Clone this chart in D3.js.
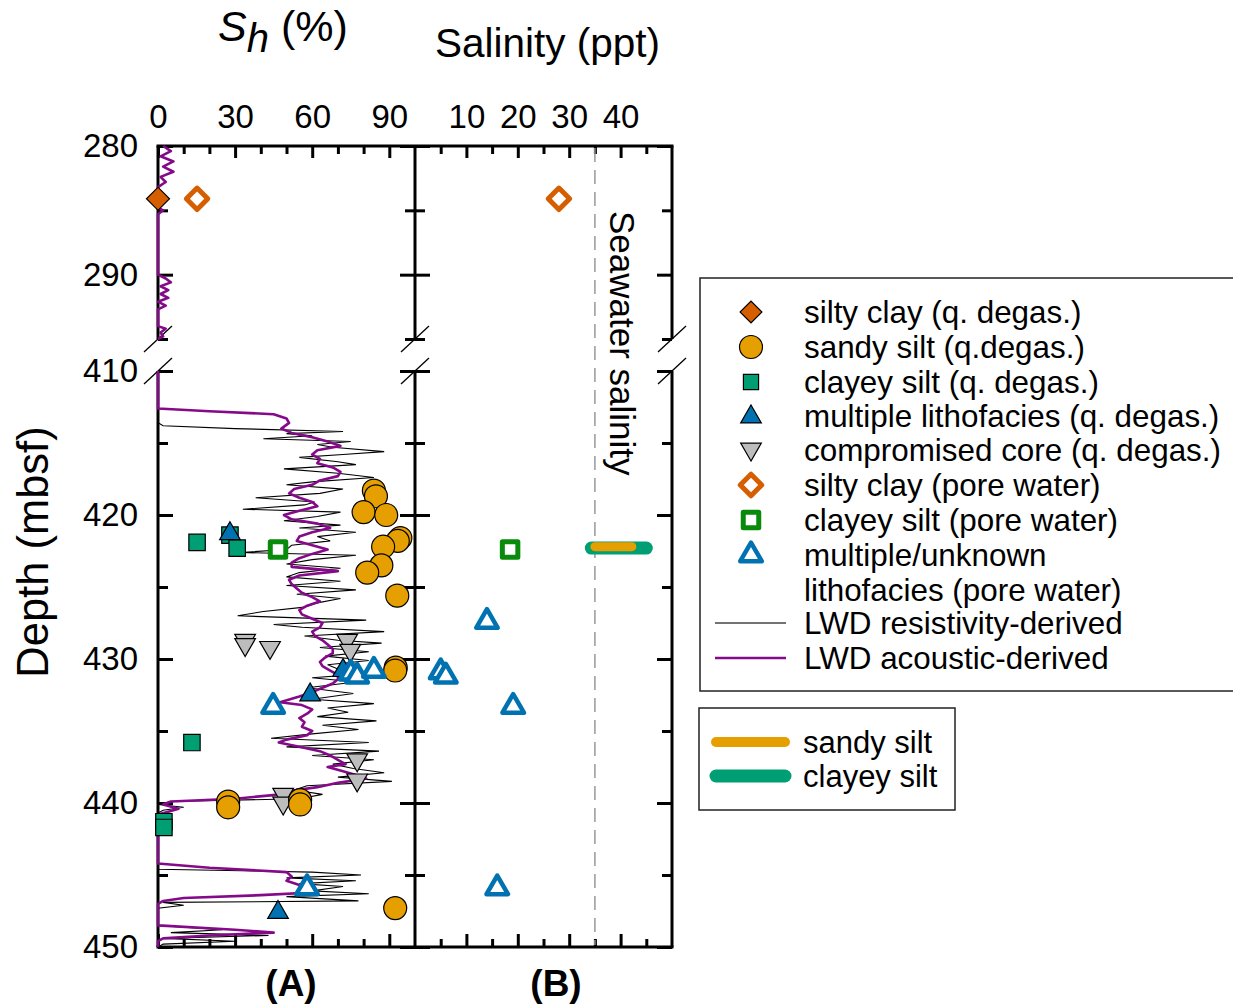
<!DOCTYPE html>
<html>
<head>
<meta charset="utf-8">
<script src="https://cdn.jsdelivr.net/npm/d3@7"></script>
<style>
body { margin: 0; background: #fff; }
text { font-family: "Liberation Sans", Arial, sans-serif; fill: #000; }
</style>
</head>
<body>
<div id="container"></div>
<script>
// tick values
var shTicks = [0, 30, 60, 90];
var shMinor = [10, 20, 40, 50, 70, 80];
var salTicks = [10, 20, 30, 40];
var salMinor = [5, 15, 25, 35, 45];
var depthUpTicks = [280, 290];
var depthUpMinor = [285, 295];
var depthLoTicks = [410, 420, 430, 440, 450];
var depthLoMinor = [415, 425, 435, 445];

// panel A points: [Sh %, depth mbsf]
var siltyClayQD = [[0, 284.1]];
var sandySiltQD = [[84, 418.3], [84.8, 418.7], [80, 419.8], [88.8, 420.0], [94.3, 421.6], [93.3, 421.8],
  [87.6, 422.2], [86.9, 423.5], [81.4, 424.0], [93.1, 425.6], [92.5, 430.6], [92.3, 430.8],
  [27.3, 439.9], [27.3, 440.3], [55.3, 439.8], [55.3, 440.1], [92.3, 447.3]];
var clayeySiltQD = [[15.2, 421.9], [28, 421.4], [30.8, 422.3], [13.2, 435.8], [2.3, 441.3], [2.3, 441.7]];
var multiLithoQD = [[28, 421.3], [72, 430.8], [59.2, 432.5], [46.7, 447.6]];
var compromisedQD = [[33.9, 428.7], [33.9, 429.0], [43.6, 429.2], [73.6, 428.7], [74.8, 429.4],
  [77.5, 437.0], [77.5, 438.4], [48.7, 439.4], [48.7, 440.0]];
var siltyClayPW_A = [[15.2, 284.1]];
var clayeySiltPW_A = [[46.7, 422.4]];
var multiPW_A = [[75, 431.0], [77.5, 431.2], [84, 430.8], [44.8, 433.3], [58, 445.9]];

// panel B points: [salinity ppt, depth mbsf]
var siltyClayPW_B = [[28.0, 284.1]];
var clayeySiltPW_B = [[18.5, 422.4]];
var multiPW_B = [[14.0, 427.4], [5.0, 430.9], [6.0, 431.2], [19.1, 433.3], [16.0, 445.9]];
var seawater = 35;
var clayeySiltRange = [34.3, 45.0], clayeySiltRangeDepth = 422.3;
var sandySiltRange = [35.0, 42.2], sandySiltRangeDepth = 422.2;

// LWD acoustic-derived Sh, [depth, Sh]
var acousticUp = [[280, 2], [280.4, 5], [280.8, 1], [281.2, 6], [281.6, 2], [282.0, 6], [282.4, 1],
  [282.8, 3], [283.2, 0], [284.8, 0], [285.0, 2], [285.3, 0], [290.0, 0], [290.3, 3], [290.6, 5],
  [290.9, 1], [291.2, 4], [291.5, 1], [291.8, 4], [292.1, 0], [292.4, 3], [292.7, 0], [294.0, 0],
  [294.2, 3], [294.5, 1], [294.8, 2], [295, 0]];
var acousticLo = [[410, 0], [412.6, 0], [412.8, 20], [413.0, 45], [413.3, 50], [413.6, 51], [414.0, 48],
  [414.3, 52], [414.6, 60], [414.9, 66], [415.2, 71], [415.5, 62], [415.8, 60], [416.1, 63], [416.4, 62],
  [416.7, 68], [417.0, 71], [417.3, 70], [417.6, 63], [417.9, 60], [418.2, 53], [418.5, 51], [418.8, 55],
  [419.1, 60], [419.4, 62], [419.7, 55], [420.0, 49], [420.3, 52], [420.6, 62], [420.9, 67], [421.2, 60],
  [421.5, 55], [421.8, 54], [422.1, 60], [422.4, 66], [422.7, 60], [423.0, 55], [423.3, 52], [423.6, 52],
  [423.9, 70], [424.2, 55], [424.5, 51], [424.8, 52], [425.1, 54], [425.4, 56], [425.7, 60], [426.0, 63],
  [426.3, 58], [426.6, 55], [426.9, 56], [427.2, 60], [427.5, 64], [427.8, 63], [428.1, 60], [428.4, 61],
  [428.7, 64], [429.0, 66], [429.3, 68], [429.6, 68], [429.9, 65], [430.2, 63], [430.5, 64], [430.8, 67],
  [431.1, 70], [431.4, 70], [431.7, 68], [432.0, 64], [432.3, 60], [432.6, 55], [433.0, 47.5], [433.2, 56],
  [433.5, 60], [433.8, 58], [434.1, 55], [434.4, 57], [434.7, 56], [435.0, 60], [435.3, 58], [435.6, 50],
  [435.8, 47], [436.1, 55], [436.4, 63], [436.7, 67], [437.0, 70], [437.3, 73], [437.5, 66], [437.8, 72],
  [438.1, 78], [438.3, 81], [438.6, 70], [438.9, 62], [439.2, 50], [439.4, 48], [439.7, 30], [439.9, 5],
  [440.1, 2], [440.4, 8], [440.6, 4], [440.8, 0], [444.2, 0], [444.5, 20], [444.8, 50], [445.1, 52],
  [445.4, 50], [445.7, 55], [446.0, 60], [446.2, 62], [446.4, 40], [446.6, 10], [446.8, 2], [447.0, 0],
  [448.5, 0], [448.8, 30], [449.0, 45], [449.2, 20], [449.4, 2], [449.6, 0], [450, 0]];

// LWD resistivity-derived Sh, [depth, Sh]
var resistivityLo = [[413.6, 0], [413.8, 2], [414.0, 30], [414.2, 72], [414.35, 50], [414.5, 60],
  [414.7, 41], [414.9, 75], [415.1, 62], [415.3, 68], [415.6, 88], [415.8, 72], [416.0, 55], [416.3, 70],
  [416.5, 77], [416.8, 49], [417.1, 70], [417.4, 84], [417.7, 60], [417.9, 50], [418.2, 72], [418.5, 63],
  [418.8, 38], [419.1, 61], [419.3, 57], [419.6, 33], [419.8, 71], [420.1, 62], [420.4, 49], [420.7, 71],
  [420.9, 55], [421.2, 77], [421.5, 62], [421.8, 67], [422.1, 52], [422.4, 50], [422.6, 32], [422.8, 77],
  [423.1, 60], [423.4, 50], [423.7, 71], [424.0, 55], [424.3, 50], [424.6, 71], [424.9, 50], [425.2, 77],
  [425.5, 54], [425.8, 71], [426.1, 62], [426.4, 57], [426.7, 41], [427.0, 31], [427.3, 81], [427.6, 45],
  [427.8, 56], [428.1, 88], [428.4, 57], [428.7, 70], [428.9, 87], [429.2, 63], [429.5, 82], [429.8, 65],
  [430.1, 82], [430.4, 66], [430.7, 70], [431.0, 83], [431.3, 60], [431.6, 77], [432.0, 58], [432.4, 76],
  [432.8, 60], [433.1, 84], [433.4, 66], [433.7, 74], [434.0, 62], [434.3, 85], [434.6, 64], [434.9, 78],
  [435.2, 60], [435.5, 44], [435.8, 82], [436.1, 50], [436.4, 86], [436.7, 60], [437.0, 84], [437.3, 68],
  [437.6, 76], [437.9, 88], [438.2, 70], [438.5, 91], [438.8, 58], [439.1, 53], [439.4, 64], [439.7, 55],
  [439.9, 5], [440.1, 0], [440.3, 10], [440.5, 2], [440.7, 0], [444.6, 0], [444.8, 60], [445.0, 79],
  [445.2, 50], [445.4, 77], [445.6, 55], [445.8, 72], [446.1, 60], [446.3, 82], [446.5, 50], [446.8, 78],
  [446.9, 2], [447.1, 10], [447.3, 0], [448.5, 0], [448.8, 25], [449.0, 5], [449.2, 43], [449.4, 2],
  [449.6, 30], [449.8, 2], [450, 0]];

var legendLabels = ["silty clay (q. degas.)", "sandy silt (q.degas.)", "clayey silt (q. degas.)",
  "multiple lithofacies (q. degas.)", "compromised core (q. degas.)", "silty clay (pore water)",
  "clayey silt (pore water)", "multiple/unknown", "lithofacies (pore water)",
  "LWD resistivity-derived", "LWD acoustic-derived"];
var rangeLabels = ["sandy silt", "clayey silt"];

// colours
var cOrange = "#D55E00", cYellow = "#E69F00", cGreen = "#009E73", cBlue = "#0072B2",
    cGray = "#BDBDBD", cDkGreen = "#0A8A0A", cPurple = "#850A8A";

var svg = d3.select("#container").append("svg")
  .attr("width", 1233).attr("height", 1008);

var xA = d3.scaleLinear().domain([0, 100]).range([158, 415]);
var xB = d3.scaleLinear().domain([0, 50]).range([415, 672]);
var yUp = d3.scaleLinear().domain([280, 295]).range([146, 339]);
var yLo = d3.scaleLinear().domain([410, 450]).range([371, 947]);
function yy(d) { return d < 300 ? yUp(d) : yLo(d); }

// axes
function styleAxis(g) {
  g.select(".domain").remove();
  g.selectAll(".tick line").attr("stroke", "#000").attr("stroke-width", 3);
  g.selectAll(".tick text").attr("font-size", 33).attr("fill", "#000")
    .attr("font-family", "Liberation Sans, Arial, sans-serif");
  return g;
}
function addAxis(gen, tr) { return styleAxis(svg.append("g").attr("transform", tr).call(gen)); }

// top
addAxis(d3.axisTop(xA).tickValues(shTicks).tickSize(-12).tickPadding(18), "translate(0,146)");
addAxis(d3.axisTop(xA).tickValues(shMinor).tickSize(-8).tickFormat(""), "translate(0,146)");
addAxis(d3.axisTop(xB).tickValues(salTicks).tickSize(-12).tickPadding(18), "translate(0,146)");
addAxis(d3.axisTop(xB).tickValues(salMinor).tickSize(-8).tickFormat(""), "translate(0,146)");
// bottom
addAxis(d3.axisBottom(xA).tickValues(shTicks).tickSize(-13).tickFormat(""), "translate(0,947)");
addAxis(d3.axisBottom(xA).tickValues(shMinor).tickSize(-8).tickFormat(""), "translate(0,947)");
addAxis(d3.axisBottom(xB).tickValues(salTicks).tickSize(-13).tickFormat(""), "translate(0,947)");
addAxis(d3.axisBottom(xB).tickValues(salMinor).tickSize(-8).tickFormat(""), "translate(0,947)");

// vertical axes, both segments
[[yUp, depthUpTicks, depthUpMinor], [yLo, depthLoTicks, depthLoMinor]].forEach(function (s) {
  var y = s[0];
  addAxis(d3.axisLeft(y).tickValues(s[1]).tickSize(-15).tickPadding(20), "translate(158,0)");
  addAxis(d3.axisLeft(y).tickValues(s[2]).tickSize(-10).tickFormat(""), "translate(158,0)");
  addAxis(d3.axisRight(y).tickValues(s[1]).tickSize(-15).tickFormat(""), "translate(415,0)");
  addAxis(d3.axisRight(y).tickValues(s[2]).tickSize(-10).tickFormat(""), "translate(415,0)");
  addAxis(d3.axisLeft(y).tickValues(s[1]).tickSize(-15).tickFormat(""), "translate(415,0)");
  addAxis(d3.axisLeft(y).tickValues(s[2]).tickSize(-10).tickFormat(""), "translate(415,0)");
  addAxis(d3.axisRight(y).tickValues(s[1]).tickSize(-15).tickFormat(""), "translate(672,0)");
  addAxis(d3.axisRight(y).tickValues(s[2]).tickSize(-10).tickFormat(""), "translate(672,0)");
});

// frame
var frame = svg.append("g").attr("stroke", "#000").attr("stroke-width", 3).attr("fill", "none");
frame.append("line").attr("x1", xA(0) - 1.5).attr("x2", xB(50) + 1.5).attr("y1", yUp(280)).attr("y2", yUp(280));
frame.append("line").attr("x1", xA(0) - 1.5).attr("x2", xB(50) + 1.5).attr("y1", yLo(450)).attr("y2", yLo(450));
[xA(0), xA(100), xB(50)].forEach(function (x) {
  frame.append("line").attr("x1", x).attr("x2", x).attr("y1", yUp(280)).attr("y2", yUp(295));
  frame.append("line").attr("x1", x).attr("x2", x).attr("y1", yLo(410)).attr("y2", yLo(450));
  [yUp(295), yLo(410)].forEach(function (y) {
    svg.append("line").attr("x1", x - 14).attr("y1", y + 13).attr("x2", x + 14).attr("y2", y - 13)
      .attr("stroke", "#000").attr("stroke-width", 1.3);
  });
});

// seawater line
svg.append("line").attr("x1", xB(seawater)).attr("x2", xB(seawater))
  .attr("y1", yUp(280) + 2).attr("y2", yLo(450) - 2)
  .attr("stroke", "#999").attr("stroke-width", 1.5).attr("stroke-dasharray", "14,8");
svg.append("text").attr("transform", "translate(" + (xB(seawater) + 15) + "," + 211 + ") rotate(90)")
  .attr("font-size", 35).text("Seawater salinity");

// LWD curves
svg.append("path").datum(resistivityLo)
  .attr("d", d3.line().x(function (d) { return xA(d[1]); }).y(function (d) { return yLo(d[0]); }))
  .attr("fill", "none").attr("stroke", "#000").attr("stroke-width", 1.1);
[[acousticUp, yUp], [acousticLo, yLo]].forEach(function (c) {
  svg.append("path").datum(c[0])
    .attr("d", d3.line().x(function (d) { return xA(d[1]); }).y(function (d) { return c[1](d[0]); }))
    .attr("fill", "none").attr("stroke", cPurple).attr("stroke-width", 2.6).attr("stroke-linejoin", "round");
});

// symbols
var symDefs = {
  fdiamond: { type: d3.symbolSquare, size: 265, rot: 45, fill: cOrange, stroke: "#000", sw: 1.2 },
  circle: { type: d3.symbolCircle, size: 415, rot: 0, fill: cYellow, stroke: "#000", sw: 1.2 },
  fsquare: { type: d3.symbolSquare, size: 270, rot: 0, fill: cGreen, stroke: "#000", sw: 1.2 },
  ftri: { type: d3.symbolTriangle, size: 185, rot: 0, fill: cBlue, stroke: "#000", sw: 1.2 },
  dtri: { type: d3.symbolTriangle, size: 185, rot: 180, fill: cGray, stroke: "#000", sw: 1.2 },
  odiamond: { type: d3.symbolSquare, size: 230, rot: 45, fill: "#fff", stroke: cOrange, sw: 5 },
  osquare: { type: d3.symbolSquare, size: 240, rot: 0, fill: "#fff", stroke: cDkGreen, sw: 5 },
  otri: { type: d3.symbolTriangle, size: 200, rot: 0, fill: "#fff", stroke: cBlue, sw: 4.5 }
};
function drawSym(g, kind, x, y, scale) {
  var s = symDefs[kind];
  g.append("path")
    .attr("d", d3.symbol().type(s.type).size(s.size * (scale || 1))())
    .attr("transform", "translate(" + x + "," + y + ") rotate(" + s.rot + ")")
    .attr("fill", s.fill).attr("stroke", s.stroke).attr("stroke-width", s.sw)
    .attr("stroke-linejoin", s.sw > 2 ? "round" : "miter");
}
function plotA(arr, kind) { arr.forEach(function (d) { drawSym(svg, kind, xA(d[0]), yy(d[1])); }); }
function plotB(arr, kind) { arr.forEach(function (d) { drawSym(svg, kind, xB(d[0]), yy(d[1])); }); }

plotA(compromisedQD, "dtri");
plotA(clayeySiltQD, "fsquare");
plotA(multiLithoQD, "ftri");
plotA(sandySiltQD, "circle");
plotA(siltyClayQD, "fdiamond");
plotA(siltyClayPW_A, "odiamond");
plotA(clayeySiltPW_A, "osquare");
plotA(multiPW_A, "otri");

// panel B
svg.append("line").attr("x1", xB(clayeySiltRange[0])).attr("x2", xB(clayeySiltRange[1]))
  .attr("y1", yLo(clayeySiltRangeDepth)).attr("y2", yLo(clayeySiltRangeDepth))
  .attr("stroke", cGreen).attr("stroke-width", 13).attr("stroke-linecap", "round");
svg.append("line").attr("x1", xB(sandySiltRange[0])).attr("x2", xB(sandySiltRange[1]))
  .attr("y1", yLo(sandySiltRangeDepth)).attr("y2", yLo(sandySiltRangeDepth))
  .attr("stroke", cYellow).attr("stroke-width", 9).attr("stroke-linecap", "round");
plotB(siltyClayPW_B, "odiamond");
plotB(clayeySiltPW_B, "osquare");
plotB(multiPW_B, "otri");

// titles
var t1 = svg.append("text").attr("x", 218).attr("y", 41).attr("font-size", 43);
t1.append("tspan").attr("font-style", "italic").text("S");
t1.append("tspan").attr("font-style", "italic").attr("dy", 11).attr("font-size", 40).text("h");
t1.append("tspan").attr("dy", -11).text(" (%)");
svg.append("text").attr("x", 435).attr("y", 57).attr("font-size", 40.5).text("Salinity (ppt)");
svg.append("text").attr("transform", "translate(48,552) rotate(-90)").attr("text-anchor", "middle")
  .attr("font-size", 43.5).text("Depth (mbsf)");
svg.append("text").attr("x", 291).attr("y", 996).attr("text-anchor", "middle")
  .attr("font-size", 37).attr("font-weight", "bold").text("(A)");
svg.append("text").attr("x", 556).attr("y", 996).attr("text-anchor", "middle")
  .attr("font-size", 37).attr("font-weight", "bold").text("(B)");

// legend 1
var leg = svg.append("g");
leg.append("rect").attr("x", 700).attr("y", 278).attr("width", 560).attr("height", 413)
  .attr("fill", "#fff").attr("stroke", "#222").attr("stroke-width", 1.5);
var rowY = [312, 347, 382, 416, 450, 485, 520, 555, 590, 623, 658];
var legKinds = ["fdiamond", "circle", "fsquare", "ftri", "dtri", "odiamond", "osquare", "otri", null, "lineK", "lineP"];
legendLabels.forEach(function (lab, i) {
  var k = legKinds[i];
  if (k === "lineK" || k === "lineP") {
    leg.append("line").attr("x1", 715).attr("x2", 786).attr("y1", rowY[i]).attr("y2", rowY[i])
      .attr("stroke", k === "lineK" ? "#444" : cPurple).attr("stroke-width", k === "lineK" ? 1.5 : 2.6);
  } else if (k) {
    var sc = { fdiamond: 0.9, circle: 1, fsquare: 0.85, ftri: 1, dtri: 1, odiamond: 1, osquare: 1, otri: 1 }[k];
    drawSym(leg, k, 751, rowY[i] + (k === "ftri" ? 1 : (k === "dtri" ? -1 : 0)), sc);
  }
  leg.append("text").attr("x", 804).attr("y", rowY[i]).attr("dy", "0.35em")
    .attr("font-size", 31.4).text(lab);
});

// legend 2
var leg2 = svg.append("g");
leg2.append("rect").attr("x", 699).attr("y", 708).attr("width", 256).attr("height", 102)
  .attr("fill", "#fff").attr("stroke", "#222").attr("stroke-width", 1.5);
var r2y = [742, 776], r2c = [cYellow, cGreen], r2w = [10, 13];
rangeLabels.forEach(function (lab, i) {
  leg2.append("line").attr("x1", 716).attr("x2", 785).attr("y1", r2y[i]).attr("y2", r2y[i])
    .attr("stroke", r2c[i]).attr("stroke-width", r2w[i]).attr("stroke-linecap", "round");
  leg2.append("text").attr("x", 803).attr("y", r2y[i]).attr("dy", "0.35em")
    .attr("font-size", 31).text(lab);
});
</script>
</body>
</html>
